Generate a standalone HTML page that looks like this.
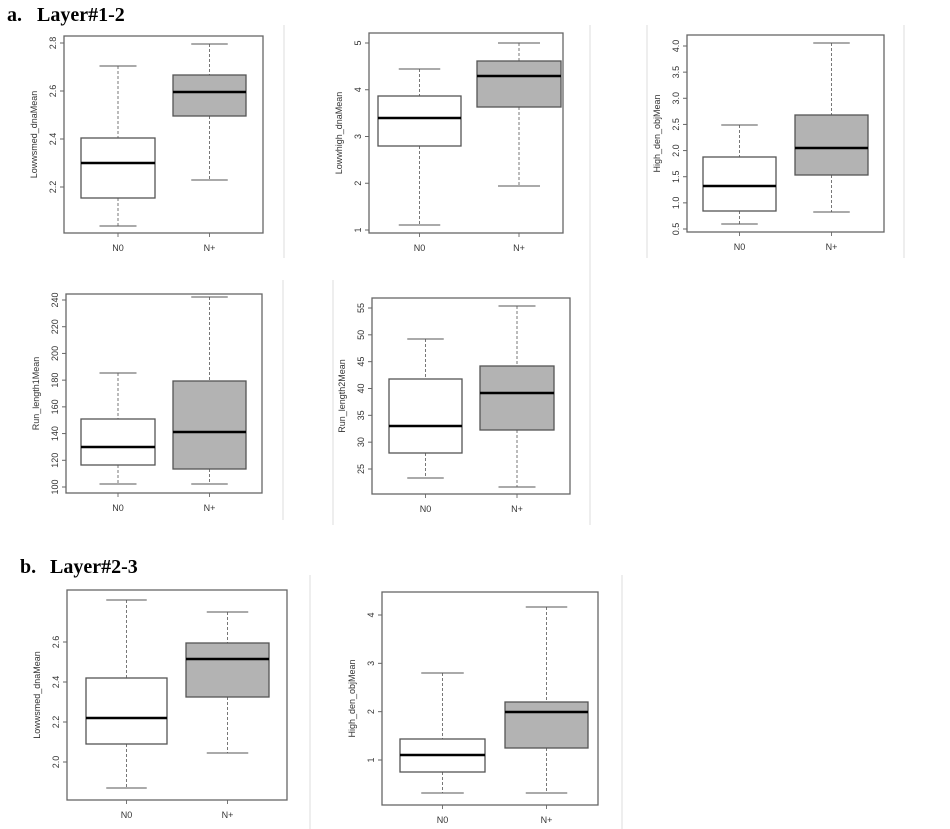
<!DOCTYPE html>
<html><head><meta charset="utf-8"><style>
body{margin:0;background:#fff;width:950px;height:829px;overflow:hidden}
svg{display:block}
.h{font-family:"Liberation Serif",serif;font-weight:bold;font-size:20px}
</style></head><body>
<svg id="s" width="950" height="829" xmlns="http://www.w3.org/2000/svg">
<text class="h" x="7" y="21">a.</text><text class="h" x="37" y="21">Layer#1-2</text>
<text class="h" x="20" y="573">b.</text><text class="h" x="50" y="573">Layer#2-3</text>
<g stroke="#ddd" stroke-width="1">
<line x1="284" y1="25" x2="284" y2="258"/>
<line x1="590" y1="25" x2="590" y2="525"/>
<line x1="647" y1="25" x2="647" y2="258"/>
<line x1="904" y1="25" x2="904" y2="258"/>
<line x1="333" y1="280" x2="333" y2="525"/>
<line x1="283" y1="280" x2="283" y2="520"/>
<line x1="310" y1="575" x2="310" y2="829"/>
<line x1="622" y1="575" x2="622" y2="829"/>
</g>
</svg>
<script>
var s=document.getElementById('s'),out='';
function P(o){
 // o: box [x1,y1,x2,y2], ylab, ticks [[label,y]], boxes [{x1,x2,q1,q3,med,wt,wb,fill}], laby
 var b=o.box;
 o.b.forEach(function(k){
  var c=(k.x1+k.x2)/2,w=(k.x2-k.x1)/2;
  out+='<line x1="'+c+'" y1="'+k.wt+'" x2="'+c+'" y2="'+k.q3+'" stroke="#777" stroke-dasharray="3,2"/>';
  out+='<line x1="'+c+'" y1="'+k.q1+'" x2="'+c+'" y2="'+k.wb+'" stroke="#777" stroke-dasharray="3,2"/>';
  out+='<line x1="'+(c-w/2)+'" y1="'+k.wt+'" x2="'+(c+w/2)+'" y2="'+k.wt+'" stroke="#555"/>';
  out+='<line x1="'+(c-w/2)+'" y1="'+k.wb+'" x2="'+(c+w/2)+'" y2="'+k.wb+'" stroke="#555"/>';
  out+='<rect x="'+k.x1+'" y="'+k.q3+'" width="'+(k.x2-k.x1)+'" height="'+(k.q1-k.q3)+'" fill="'+k.f+'" stroke="#555" stroke-width="1.3"/>';
  out+='<line x1="'+k.x1+'" y1="'+k.m+'" x2="'+k.x2+'" y2="'+k.m+'" stroke="#000" stroke-width="2.5"/>';
  out+='<line x1="'+c+'" y1="'+b[3]+'" x2="'+c+'" y2="'+(b[3]+4)+'" stroke="#777"/>';
  out+='<text x="'+c+'" y="'+(b[3]+18)+'" font-family="Liberation Sans,sans-serif" font-size="9" fill="#333" text-anchor="middle">'+k.l+'</text>';
 });
 out+='<rect x="'+b[0]+'" y="'+b[1]+'" width="'+(b[2]-b[0])+'" height="'+(b[3]-b[1])+'" fill="none" stroke="#666" stroke-width="1.3"/>';
 o.t.forEach(function(t){
  out+='<line x1="'+(b[0]-4)+'" y1="'+t[1]+'" x2="'+b[0]+'" y2="'+t[1]+'" stroke="#666"/>';
  out+='<text transform="translate('+(b[0]-8)+','+t[1]+') rotate(-90)" font-family="Liberation Sans,sans-serif" font-size="9" fill="#333" text-anchor="middle">'+t[0]+'</text>';
 });
 var cy=(b[1]+b[3])/2;
 out+='<text transform="translate('+(b[0]-27)+','+cy+') rotate(-90)" font-family="Liberation Sans,sans-serif" font-size="9" fill="#333" text-anchor="middle">'+o.y+'</text>';
}
function T(labels,v0,y0,v1,y1){return labels.map(function(l){var v=parseFloat(l);return [l,y0+(v-v0)*(y1-y0)/(v1-v0)];});}
var W='#fff',G='#b3b3b3';
P({box:[64,36,263,233],y:'Lowwsmed_dnaMean',t:T(['2.2','2.4','2.6','2.8'],2.2,187,2.8,43),
 b:[{x1:81,x2:155,q1:198,q3:138,m:163,wt:66,wb:226,f:W,l:'N0'},{x1:173,x2:246,q1:116,q3:75,m:92,wt:44,wb:180,f:G,l:'N+'}]});
P({box:[369,33,563,233],y:'Lowwhigh_dnaMean',t:T(['1','2','3','4','5'],1,230,5,43),
 b:[{x1:378,x2:461,q1:146,q3:96,m:118,wt:69,wb:225,f:W,l:'N0'},{x1:477,x2:561,q1:107,q3:61,m:76,wt:43,wb:186,f:G,l:'N+'}]});
P({box:[687,35,884,232],y:'High_den_objMean',t:T(['0.5','1.0','1.5','2.0','2.5','3.0','3.5','4.0'],0.5,229,4.0,46),
 b:[{x1:703,x2:776,q1:211,q3:157,m:186,wt:125,wb:224,f:W,l:'N0'},{x1:795,x2:868,q1:175,q3:115,m:148,wt:43,wb:212,f:G,l:'N+'}]});
P({box:[66,294,262,493],y:'Run_length1Mean',t:T(['100','120','140','160','180','200','220','240'],100,487,240,300),
 b:[{x1:81,x2:155,q1:465,q3:419,m:447,wt:373,wb:484,f:W,l:'N0'},{x1:173,x2:246,q1:469,q3:381,m:432,wt:297,wb:484,f:G,l:'N+'}]});
P({box:[372,298,570,494],y:'Run_length2Mean',t:T(['25','30','35','40','45','50','55'],25,469,55,308),
 b:[{x1:389,x2:462,q1:453,q3:379,m:426,wt:339,wb:478,f:W,l:'N0'},{x1:480,x2:554,q1:430,q3:366,m:393,wt:306,wb:487,f:G,l:'N+'}]});
P({box:[67,590,287,800],y:'Lowwsmed_dnaMean',t:T(['2.0','2.2','2.4','2.6'],2.0,762,2.6,642),
 b:[{x1:86,x2:167,q1:744,q3:678,m:718,wt:600,wb:788,f:W,l:'N0'},{x1:186,x2:269,q1:697,q3:643,m:659,wt:612,wb:753,f:G,l:'N+'}]});
P({box:[382,592,598,805],y:'High_den_objMean',t:T(['1','2','3','4'],1,760,4,615),
 b:[{x1:400,x2:485,q1:772,q3:739,m:755,wt:673,wb:793,f:W,l:'N0'},{x1:505,x2:588,q1:748,q3:702,m:712,wt:607,wb:793,f:G,l:'N+'}]});
s.insertAdjacentHTML('beforeend',out);
</script>
</body></html>
